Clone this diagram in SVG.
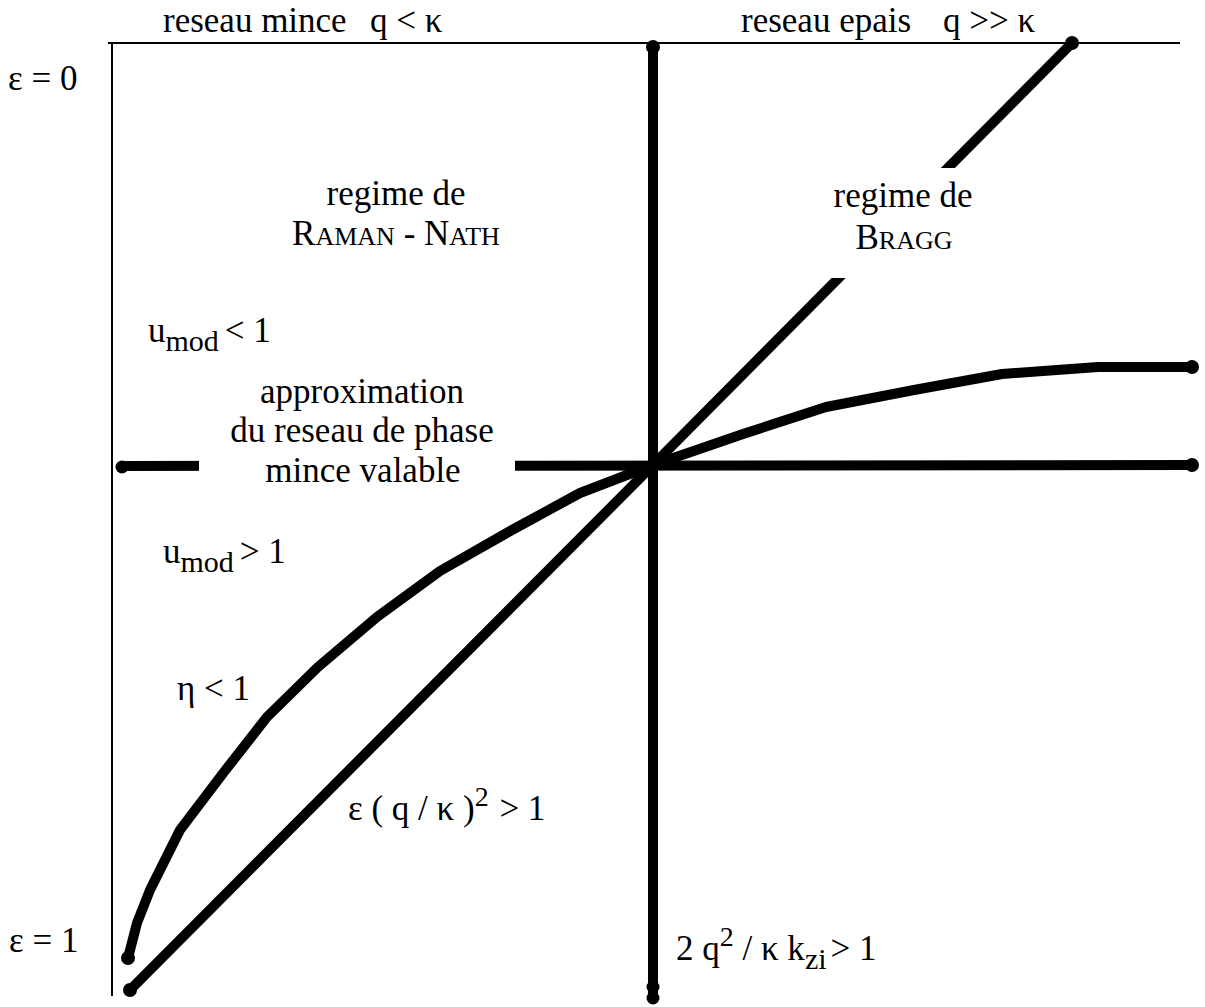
<svg xmlns="http://www.w3.org/2000/svg" width="1205" height="1007" viewBox="0 0 1205 1007">
<style>
.t{font-family:"Liberation Serif","Times New Roman",serif;font-size:35px;fill:#000}
.sc{font-size:26px}
.sub{font-size:30px}
.sup{font-size:28px}
.thin{stroke:#000;stroke-width:2;fill:none}
.thick{stroke:#000;stroke-width:10;fill:none;stroke-linecap:butt;stroke-linejoin:round}
.dot{fill:#000}
</style>
<rect width="1205" height="1007" fill="#fff"/>
<g id="connectors">
  <line class="thin" x1="108" y1="43" x2="1180" y2="43"/>
  <line class="thin" x1="112" y1="43" x2="112" y2="996"/>
  <line class="thick" x1="653" y1="47" x2="653" y2="998"/>
  <line class="thick" x1="1072" y1="43" x2="653" y2="465"/>
  <line class="thick" x1="653" y1="465" x2="130" y2="990"/>
  <line class="thick" x1="122" y1="466" x2="1192" y2="465"/>
  <polyline class="thick" points="653,465 743,434 826,407 914,390 1002,374 1098,367 1192,367"/>
  <polyline class="thick" points="653,465 580,493 512,530 440,571 377,617 318,667 267,717 224,772 180,830 150,890 137,923 128,958"/>
  <circle class="dot" cx="653" cy="47" r="7"/>
  <circle class="dot" cx="653" cy="987" r="6.5"/>
  <circle class="dot" cx="653" cy="998" r="6.5"/>
  <circle class="dot" cx="1072" cy="43" r="7"/>
  <circle class="dot" cx="122" cy="467" r="6.5"/>
  <circle class="dot" cx="1192" cy="465" r="7"/>
  <circle class="dot" cx="1192" cy="367" r="7"/>
  <circle class="dot" cx="130" cy="990" r="7"/>
  <circle class="dot" cx="128" cy="958" r="7"/>
</g>
<g id="header-thin">
  <text class="t" x="163" y="32">reseau mince</text>
  <text class="t" x="370" y="32">q &lt; κ</text>
</g>
<g id="header-thick">
  <text class="t" x="741" y="32">reseau epais</text>
  <text class="t" x="943" y="32">q &gt;&gt; κ</text>
</g>
<g id="eps0"><text class="t" x="8" y="90">ε = 0</text></g>
<g id="eps1"><text class="t" x="9" y="952">ε = 1</text></g>
<g id="raman-nath">
  <text class="t" x="396" y="205" text-anchor="middle">regime de</text>
  <text class="t" x="396" y="245" text-anchor="middle">R<tspan class="sc">AMAN</tspan> - N<tspan class="sc">ATH</tspan></text>
</g>
<g id="bragg">
  <rect x="790" y="168" width="220" height="110" fill="#fff"/>
  <text class="t" x="903" y="207" text-anchor="middle">regime de</text>
  <text class="t" x="904" y="249" text-anchor="middle">B<tspan class="sc">RAGG</tspan></text>
</g>
<g id="umod-lt">
  <text class="t" x="148" y="342">u<tspan class="sub" dy="9">mod</tspan><tspan dy="-9" dx="6">&lt; 1</tspan></text>
</g>
<g id="approximation">
  <rect x="199" y="372" width="316" height="125" fill="#fff"/>
  <text class="t" x="362" y="403" text-anchor="middle">approximation</text>
  <text class="t" x="362" y="442" text-anchor="middle">du reseau de phase</text>
  <text class="t" x="363" y="482" text-anchor="middle">mince valable</text>
</g>
<g id="umod-gt">
  <text class="t" x="163" y="563">u<tspan class="sub" dy="9">mod</tspan><tspan dy="-9" dx="6">&gt; 1</tspan></text>
</g>
<g id="eta"><text class="t" x="177" y="700">η &lt; 1</text></g>
<g id="eps-q-kappa">
  <text class="t" x="348" y="820">ε ( q / κ )<tspan class="sup" dy="-14">2</tspan><tspan dy="14" dx="2"> &gt; 1</tspan></text>
</g>
<g id="q2-kappa-kzi">
  <text class="t" x="676" y="960">2 q<tspan class="sup" dy="-14">2</tspan><tspan dy="14"> / κ k</tspan><tspan class="sub" dy="9">zi</tspan><tspan dy="-9" dx="4">&gt; 1</tspan></text>
</g>
</svg>
